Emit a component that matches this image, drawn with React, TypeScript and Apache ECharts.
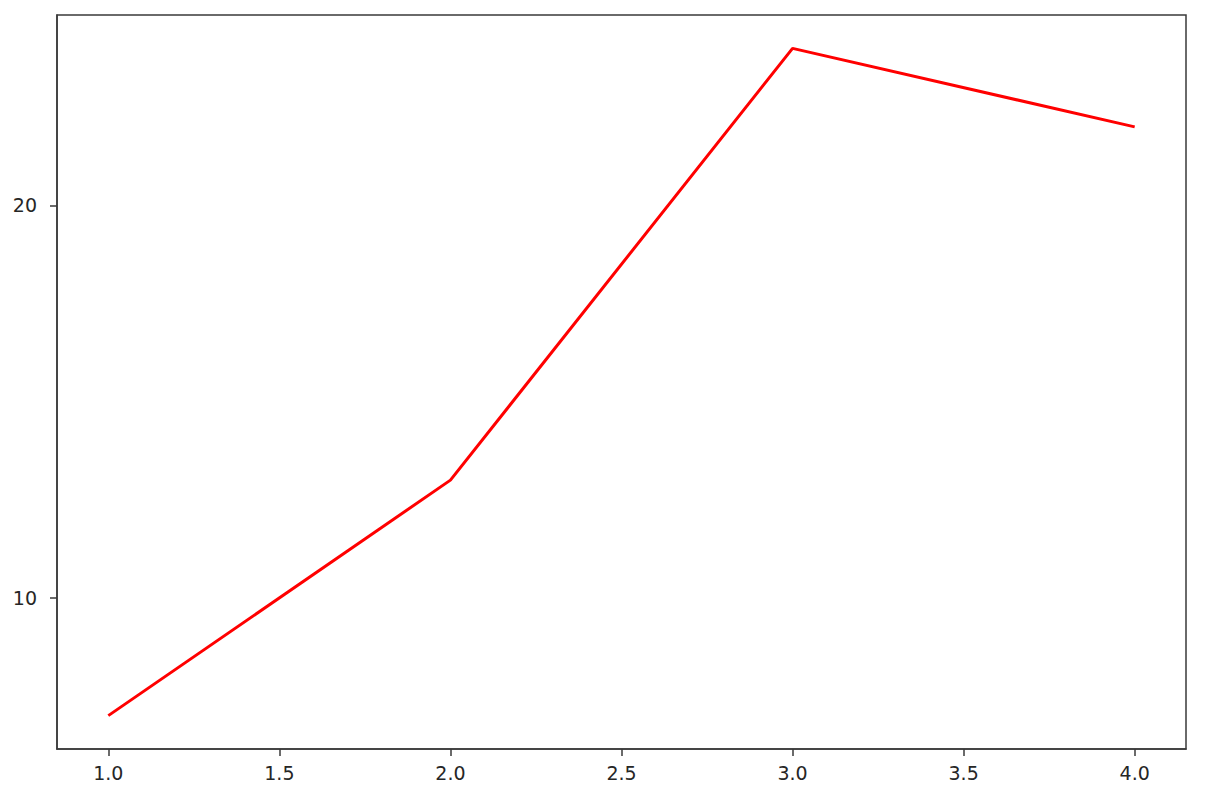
import { useEffect, useRef } from 'react';
import * as echarts from 'echarts';
import type { EChartsOption } from 'echarts';

const xValues = [1, 2, 3, 4];
const yValues = [7, 13, 24, 22];
const xTicks = [1, 1.5, 2, 2.5, 3, 3.5, 4];
const yTicks = [10, 20];

const App = () => {
  const chartRef = useRef<HTMLDivElement>(null);

  useEffect(() => {
    if (!chartRef.current) return;
    const chart = echarts.init(chartRef.current, undefined, { renderer: 'svg' });

    const axisText = {
      color: '#262626',
      fontSize: 19,
      fontFamily: 'DejaVu Sans'
    };

    const option: EChartsOption = {
      animation: false,
      backgroundColor: '#ffffff',
      grid: {
        left: 57,
        right: 25,
        top: 15,
        bottom: 55,
        show: true,
        borderColor: '#3a3a3a',
        borderWidth: 1.5,
        backgroundColor: 'transparent'
      },
      xAxis: {
        type: 'value',
        min: 0.85,
        max: 4.15,
        splitLine: { show: false },
        axisLine: { show: true, lineStyle: { color: '#3a3a3a', width: 1.5 } },
        axisTick: {
          show: true,
          length: 7,
          customValues: xTicks,
          lineStyle: { color: '#3a3a3a', width: 1.5 }
        },
        axisLabel: {
          ...axisText,
          margin: 14,
          customValues: xTicks,
          formatter: (v: number) => v.toFixed(1)
        }
      },
      yAxis: {
        type: 'value',
        min: 6.15,
        max: 24.85,
        splitLine: { show: false },
        axisLine: { show: true, lineStyle: { color: '#3a3a3a', width: 1.5 } },
        axisTick: {
          show: true,
          length: 7,
          customValues: yTicks,
          lineStyle: { color: '#3a3a3a', width: 1.5 }
        },
        axisLabel: {
          ...axisText,
          margin: 20,
          customValues: yTicks,
          formatter: (v: number) => String(v)
        }
      },
      series: [
        {
          type: 'line',
          data: xValues.map((x, i) => [x, yValues[i]]),
          symbol: 'none',
          lineStyle: { color: '#ff0000', width: 3 }
        }
      ]
    };

    chart.setOption(option);
    return () => {
      chart.dispose();
    };
  }, []);

  return (
    <div
      ref={chartRef}
      style={{ position: 'fixed', left: 0, top: 0, width: '1211px', height: '804px' }}
    />
  );
};

export default App;
